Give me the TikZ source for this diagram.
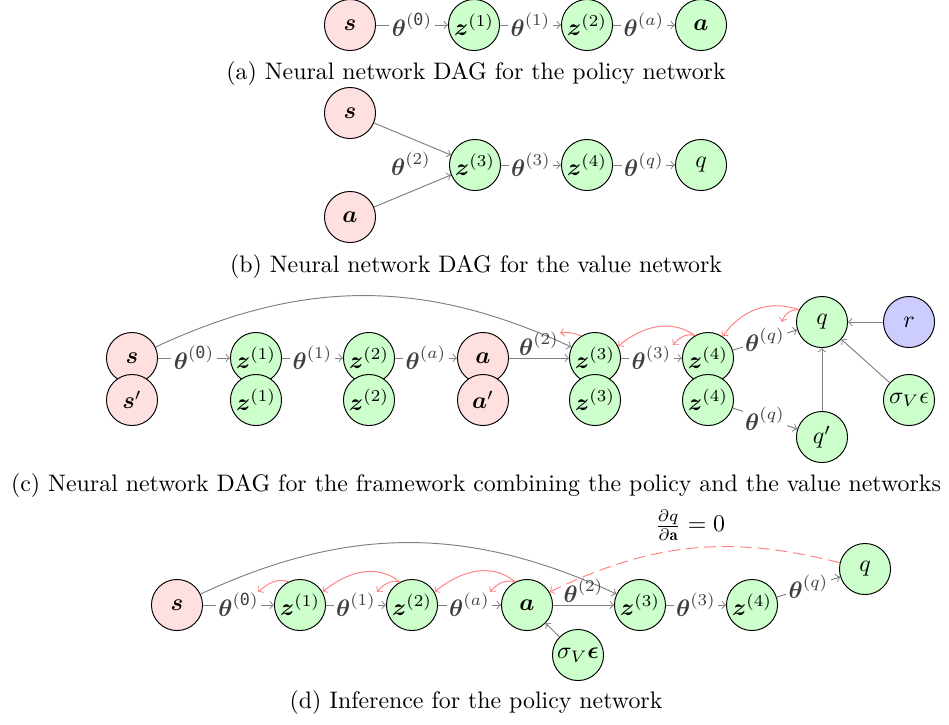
\documentclass[tikz,border=0pt]{standalone}
\usepackage{amsmath}
\usepackage{fontspec}
\newfontfamily\zerofont{DejaVu Sans Mono}
\newcommand\bth{\boldsymbol{\theta}}
\newcommand\zsup{\text{\zerofont 0}}
\newcommand\bz[1]{\boldsymbol{z}^{(#1)}}

\begin{document}
\begin{tikzpicture}[x=0.419pt,y=-0.419pt,
  nd/.style={circle,draw=black,minimum size=21.4pt,inner sep=0pt},
  pinknode/.style={nd,fill=red!12},
  greennode/.style={nd,fill=green!20},
  bluenode/.style={nd,fill=blue!20},
  conn/.style={draw=black!50,->},
  lab/.style={fill=white,inner sep=1pt,text=black!75},
  toplab/.style={above,inner sep=1pt,text=black!75},
  back/.style={draw=red!50,->},
  captext/.style={inner sep=0pt}]
\useasboundingbox (0,0) rectangle (949,724);

% ---------- (a) policy network ----------
\node[pinknode]  (sA)  at (350,25) {$\boldsymbol{s}$};
\node[greennode] (z1A) at (474,25) {$\bz{1}$};
\node[greennode] (z2A) at (587,25) {$\bz{2}$};
\node[greennode] (aA)  at (701,25) {$\boldsymbol{a}$};
\draw[conn] (sA)  -- node[lab] {$\bth^{(\zsup)}$} (z1A);
\draw[conn] (z1A) -- node[lab] {$\bth^{(1)}$} (z2A);
\draw[conn] (z2A) -- node[lab] {$\bth^{(a)}$} (aA);
\node[captext] (capA) at (476,74) {(a) Neural network DAG for the policy network};

% ---------- (b) value network ----------
\node[pinknode]  (sB)  at (350,113) {$\boldsymbol{s}$};
\node[pinknode]  (aB)  at (350,217) {$\boldsymbol{a}$};
\node[greennode] (z3B) at (475,165) {$\bz{3}$};
\node[greennode] (z4B) at (587,165) {$\bz{4}$};
\node[greennode] (qB)  at (701,165) {$q$};
\draw[conn] (sB) -- (z3B);
\draw[conn] (aB) -- (z3B);
\node[text=black!75] (thB) at (411,164) {$\bth^{(2)}$};
\draw[conn] (z3B) -- node[lab] {$\bth^{(3)}$} (z4B);
\draw[conn] (z4B) -- node[lab] {$\bth^{(q)}$} (qB);
\node[captext] (capB) at (476,267) {(b) Neural network DAG for the value network};

% ---------- (c) combined framework ----------
\node[pinknode]  (sC)  at (132,358) {$\boldsymbol{s}$};
\node[greennode] (z1C) at (256,358) {$\bz{1}$};
\node[greennode] (z2C) at (369,358) {$\bz{2}$};
\node[pinknode]  (aC)  at (483,358) {$\boldsymbol{a}$};
\node[greennode] (z3C) at (595,358) {$\bz{3}$};
\node[greennode] (z4C) at (708,358) {$\bz{4}$};
\node[pinknode]  (spC)  at (132,400) {$\boldsymbol{s}'$};
\node[greennode] (z1pC) at (256,400) {$\bz{1}$};
\node[greennode] (z2pC) at (369,400) {$\bz{2}$};
\node[pinknode]  (apC)  at (483,400) {$\boldsymbol{a}'$};
\node[greennode] (z3pC) at (595,400) {$\bz{3}$};
\node[greennode] (z4pC) at (708,400) {$\bz{4}$};
\node[greennode] (qC)  at (822,322) {$q$};
\node[bluenode]  (rC)  at (909,322) {$r$};
\node[greennode] (sgC) at (909,400) {$\sigma_V\epsilon$};
\node[greennode] (qpC) at (822,437) {$q'$};

\draw[conn] (sC) to[bend left=25] (z3C);
\draw[conn] (sC)  -- node[lab] {$\bth^{(\zsup)}$} (z1C);
\draw[conn] (z1C) -- node[lab] {$\bth^{(1)}$} (z2C);
\draw[conn] (z2C) -- node[lab] {$\bth^{(a)}$} (aC);
\draw[conn] (aC)  -- node[toplab] {$\bth^{(2)}$} (z3C);
\draw[conn] (z3C) -- node[lab] {$\bth^{(3)}$} (z4C);
\draw[conn] (z4C) -- node[lab] {$\bth^{(q)}$} (qC);
\draw[conn] (z4pC) -- node[lab] {$\bth^{(q)}$} (qpC);
\draw[conn] (qpC) -- (qC);
\draw[conn] (rC) -- (qC);
\draw[conn] (sgC) -- (qC);

% gradient flow
\coordinate (cz3C) at (560,333);
\coordinate (cz4C) at (673,345);
\coordinate (cqC)  at (782,322);
\draw[back] (z3C.122) to[out=160,in=10] (cz3C);
\draw[back] (z4C.120) to[out=145,in=40] (z3C.27);
\draw[back] (z4C.120) to[out=165,in=50] (cz4C);
\draw[back] (qC.152) to[out=160,in=55] (z4C.56);
\draw[back] (qC.152) to[out=175,in=75] (cqC);
\node[captext] (capC) at (476,486) {(c) Neural network DAG for the framework combining the policy and the value networks};

% ---------- (d) inference ----------
\node[pinknode]  (sD)  at (177,605) {$\boldsymbol{s}$};
\node[greennode] (z1D) at (300,605) {$\bz{1}$};
\node[greennode] (z2D) at (412,605) {$\bz{2}$};
\node[greennode] (aD)  at (527,605) {$\boldsymbol{a}$};
\node[greennode] (z3D) at (640,605) {$\bz{3}$};
\node[greennode] (z4D) at (752,605) {$\bz{4}$};
\node[greennode] (qD)  at (865,569) {$q$};
\node[greennode] (sgD) at (578,655) {$\sigma_V\boldsymbol{\epsilon}$};

\draw[conn] (sD) to[bend left=25] (z3D);
\draw[conn] (sD)  -- node[lab] {$\bth^{(\zsup)}$} (z1D);
\draw[conn] (z1D) -- node[lab] {$\bth^{(1)}$} (z2D);
\draw[conn] (z2D) -- node[lab] {$\bth^{(a)}$} (aD);
\draw[conn] (aD)  -- node[toplab] {$\bth^{(2)}$} (z3D);
\draw[conn] (z3D) -- node[lab] {$\bth^{(3)}$} (z4D);
\draw[conn] (z4D) -- node[lab] {$\bth^{(q)}$} (qD);
\draw[conn] (sgD) -- (aD);

\coordinate (cz1D) at (258,592);
\coordinate (cz2D) at (377,592);
\coordinate (caD)  at (490,592);
\draw[back] (z1D.117) to[out=160,in=40] (cz1D);
\draw[back] (z2D.118) to[out=140,in=40] (z1D.30);
\draw[back] (z2D.118) to[out=165,in=50] (cz2D);
\draw[back] (aD.117) to[out=140,in=40] (z2D.30);
\draw[back] (aD.117) to[out=165,in=50] (caD);
\draw[back,dash pattern=on 5pt off 2.5pt] (qD.166) to[bend right=20] (aD.30);
\node (dlab) at (690,525) {$\frac{\partial q}{\partial\mathbf{a}}=0$};
\node[captext] (capD) at (476,703) {(d) Inference for the policy network};
\end{tikzpicture}
\end{document}
